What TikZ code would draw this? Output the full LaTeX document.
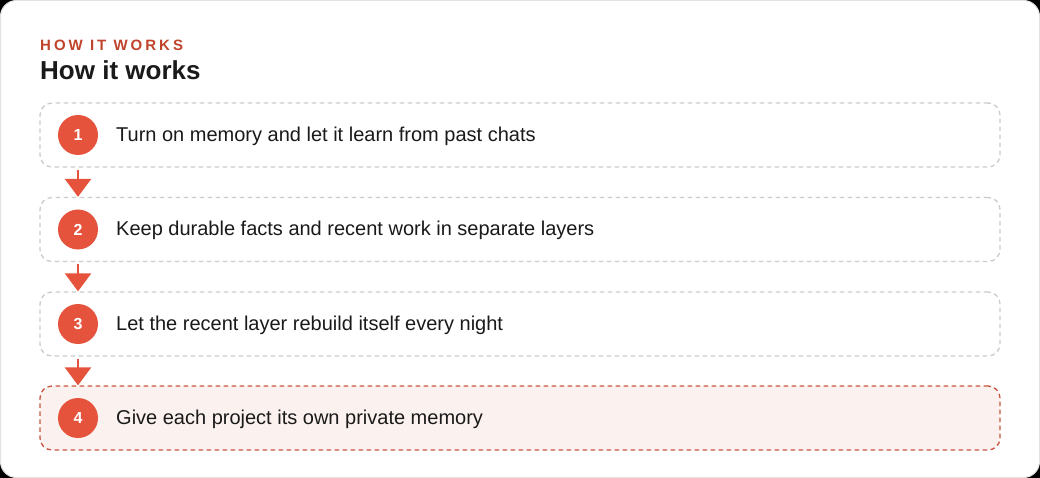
\documentclass[tikz,border=0pt]{standalone}
\usepackage{fontspec}
\setmainfont{Liberation Sans}
\newfontfamily\trackfont[LetterSpace=20]{Liberation Sans}
\usetikzlibrary{arrows.meta,calc}
\definecolor{accent}{HTML}{E5533C}
\definecolor{kicker}{HTML}{C0442C}
\definecolor{ink}{HTML}{1A1A1A}
\definecolor{dashgray}{HTML}{CCCCCC}
\definecolor{hifill}{HTML}{FBF1EE}
\definecolor{hiborder}{HTML}{C9553F}
\definecolor{cardborder}{HTML}{E2E2DE}
\tikzset{
  stepbox/.style={draw=dashgray, line width=1.3pt, dash pattern=on 4.5pt off 3.5pt, rounded corners=12pt, minimum width=960pt, minimum height=64pt, inner sep=0pt},
  hibox/.style={stepbox, draw=hiborder, fill=hifill},
  badge/.style={circle, fill=accent, minimum size=40pt, inner sep=0pt, text=white, font=\bfseries\fontsize{16}{18}\selectfont},
  steptext/.style={anchor=base west, text=ink, font=\fontsize{20}{24}\selectfont, inner sep=0pt},
  flow/.style={draw=accent, line width=2.5pt, -{Triangle[width=26pt,length=18pt]}, shorten >=0pt}
}
\begin{document}
\begin{tikzpicture}[x=1pt,y=-1pt]
\fill[black] (0,0) rectangle (1040,478);
\useasboundingbox (0,0) rectangle (1040,478);
\draw[fill=white, draw=cardborder, line width=1pt, rounded corners=16pt] (0.5,0.5) rectangle (1039.5,477.5);
\node[anchor=base west, inner sep=0pt, text=kicker, font=\trackfont\bfseries\fontsize{15}{17}\selectfont] (kick) at (40,51) {HOW IT WORKS};
\node[anchor=base west, inner sep=0pt, text=ink, font=\bfseries\fontsize{26}{30}\selectfont] (title) at (40,79.5) {How it works};

\node[stepbox] (b1) at (520,135) {};
\node[stepbox] (b2) at (520,229.5) {};
\node[stepbox] (b3) at (520,324) {};
\node[hibox] (b4) at (520,418) {};

\node[badge] (c1) at (78,135) {1};
\node[badge] (c2) at (78,229.5) {2};
\node[badge] (c3) at (78,324) {3};
\node[badge] (c4) at (78,418) {4};

\node[steptext] (t1) at (116,141.5) {Turn on memory and let it learn from past chats};
\node[steptext] (t2) at (116,236) {Keep durable facts and recent work in separate layers};
\node[steptext] (t3) at (116,330.5) {Let the recent layer rebuild itself every night};
\node[steptext] (t4) at (116,424.5) {Give each project its own private memory};

\draw[flow] ($(b1.south -| c1)+(0,2)$) -- (b2.north -| c1);
\draw[flow] ($(b2.south -| c2)+(0,2)$) -- (b3.north -| c2);
\draw[flow] ($(b3.south -| c3)+(0,2)$) -- (b4.north -| c3);
\end{tikzpicture}
\end{document}
